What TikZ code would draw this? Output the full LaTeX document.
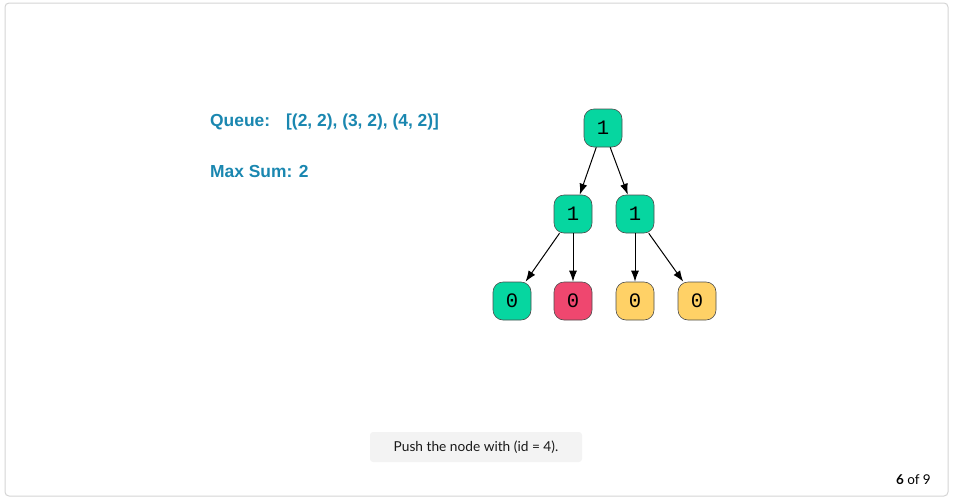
\documentclass[tikz,border=0pt]{standalone}
\usepackage{fontspec}
\setmainfont{Liberation Sans}
\newfontfamily\monof{Liberation Mono}
\newfontfamily\capf{Lato}
\usetikzlibrary{arrows.meta}
\definecolor{tgreen}{HTML}{06D6A0}
\definecolor{tred}{HTML}{EF476F}
\definecolor{tyellow}{HTML}{FFD166}
\definecolor{tblue}{HTML}{1A87B0}
\definecolor{frameg}{HTML}{D4D4D4}
\definecolor{capbg}{HTML}{F3F3F3}
\tikzset{
  tnode/.style={draw=black!70, line width=0.6pt, rounded corners=10pt, minimum width=38pt, minimum height=38pt, inner sep=0pt, font=\monof\fontsize{20.5}{20.5}\selectfont},
  tedge/.style={-{Latex[length=11pt,width=8pt]}, line width=1pt},
  info/.style={anchor=base west, inner sep=0pt, text=tblue, font=\bfseries\fontsize{17.4}{17.4}\selectfont}
}
\begin{document}
\begin{tikzpicture}[x=1pt,y=-1pt]
\useasboundingbox (0,0) rectangle (955,501);
\draw[frameg, line width=1pt, rounded corners=4pt] (5,3) rectangle (948,496);
\node[info] (q) at (210,126.5) {Queue:};
\node[info] (ql) at (286,126.5) {[(2, 2), (3, 2), (4, 2)]};
\node[info] (ms) at (210,177) {Max Sum: 2};
\node[tnode, fill=tgreen] (r) at (603,128) {1};
\node[tnode, fill=tgreen] (a) at (573,214) {1};
\node[tnode, fill=tgreen] (b) at (635,214) {1};
\node[tnode, fill=tgreen] (c) at (512,301) {0};
\node[tnode, fill=tred] (d) at (573,301) {0};
\node[tnode, fill=tyellow] (e) at (635,301) {0};
\node[tnode, fill=tyellow] (f) at (697,301) {0};
\draw[tedge] (r) -- (a);
\draw[tedge] (r) -- (b);
\draw[tedge] (a) -- (c);
\draw[tedge] (a) -- (d);
\draw[tedge] (b) -- (e);
\draw[tedge] (b) -- (f);
\node[fill=capbg, rounded corners=3pt, minimum width=212pt, minimum height=30pt, inner sep=0pt, font=\capf\fontsize{13.7}{13.7}\selectfont, text=black!90] (cap) at (476,447) {Push the node with (id = 4).};
\node[anchor=base east, inner sep=0pt, font=\capf\fontsize{13.5}{13.5}\selectfont] (pg) at (931,484) {\textbf{6} of 9};
\end{tikzpicture}
\end{document}
